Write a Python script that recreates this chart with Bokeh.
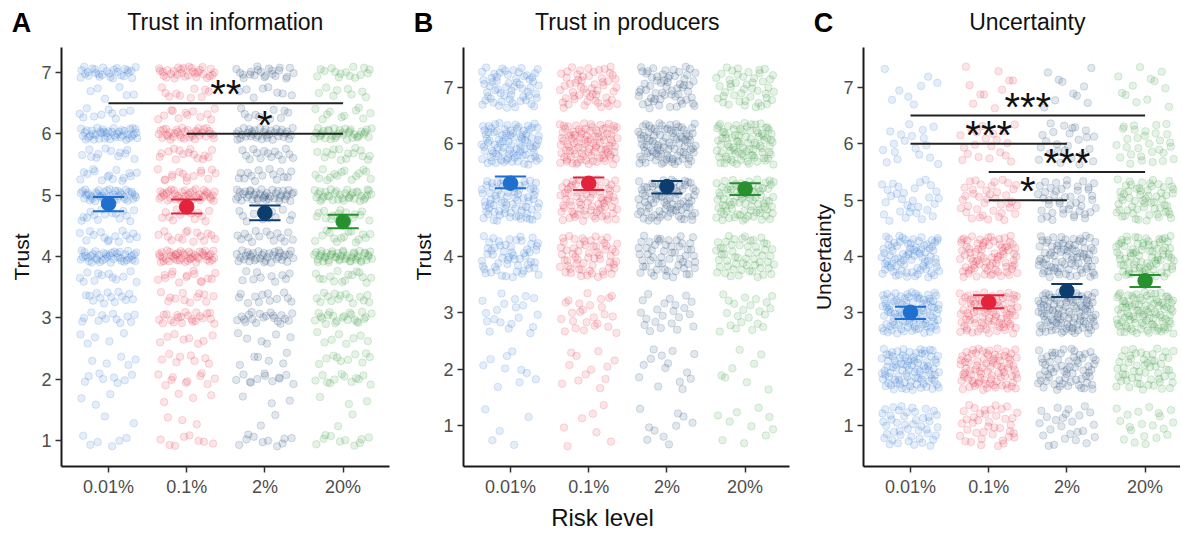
from bokeh.plotting import figure
from bokeh.layouts import row, column
from bokeh.models import FixedTicker, Range1d, ColumnDataSource
from bokeh.core.properties import value
from bokeh.embed import file_html
from bokeh.resources import INLINE

FONT = "Liberation Sans"

risk_levels = ["0.01%", "0.1%", "2%", "20%"]
group_colors = ["#1f6fce", "#e3233c", "#0d3c6e", "#26912e"]
panel_letters = ["A", "B", "C"]
panel_titles = ["Trust in information", "Trust in producers", "Uncertainty"]
panel_ylabels = ["Trust", "Trust", "Uncertainty"]
x_axis_title = "Risk level"

# ---------------- Panel A: Trust in information (mean of items, thirds) ----
a_levels = [1.0, 1.33, 1.67, 2.0, 2.33, 2.67, 3.0, 3.33, 3.67, 4.0,
            4.33, 4.67, 5.0, 5.33, 5.67, 6.0, 6.33, 6.67, 7.0]
a_counts_001 = [6, 2, 3, 8, 5, 5, 12, 14, 12, 40, 15, 15, 42, 15, 12, 42, 10, 6, 28]
a_counts_01 = [8, 3, 4, 10, 8, 8, 22, 12, 15, 45, 15, 12, 40, 15, 15, 35, 12, 10, 30]
a_counts_2 = [10, 2, 3, 12, 6, 6, 20, 12, 10, 35, 15, 12, 40, 15, 15, 35, 10, 8, 22]
a_counts_20 = [10, 2, 3, 12, 10, 8, 22, 15, 15, 45, 15, 15, 35, 15, 15, 35, 10, 8, 15]
a_mean = [4.86, 4.81, 4.71, 4.57]
a_low = [4.74, 4.70, 4.59, 4.46]
a_high = [4.97, 4.93, 4.83, 4.68]
a_sig_from = ["0.01%", "0.1%"]
a_sig_to = ["20%", "20%"]
a_sig_y = [6.5, 6.0]
a_sig_text = ["**", "*"]

# ---------------- Panel B: Trust in producers (1-7) ----
b_levels = [1, 2, 3, 4, 5, 6, 7]
b_counts_001 = [5, 10, 20, 55, 75, 90, 60]
b_counts_01 = [7, 12, 25, 60, 75, 95, 55]
b_counts_2 = [10, 14, 22, 55, 80, 90, 60]
b_counts_20 = [10, 8, 22, 55, 80, 85, 45]
b_mean = [5.30, 5.30, 5.24, 5.20]
b_low = [5.21, 5.18, 5.12, 5.09]
b_high = [5.42, 5.40, 5.34, 5.30]

# ---------------- Panel C: Uncertainty (1-7) ----
c_levels = [1, 2, 3, 4, 5, 6, 7]
c_counts_001 = [45, 90, 95, 80, 30, 18, 8]
c_counts_01 = [40, 85, 85, 80, 40, 20, 10]
c_counts_2 = [25, 65, 100, 80, 45, 25, 10]
c_counts_20 = [20, 55, 95, 80, 60, 30, 12]
c_mean = [3.01, 3.19, 3.39, 3.57]
c_low = [2.89, 3.08, 3.28, 3.46]
c_high = [3.11, 3.31, 3.51, 3.67]
c_sig_from = ["0.01%", "0.01%", "0.1%", "0.1%"]
c_sig_to = ["20%", "2%", "20%", "2%"]
c_sig_y = [6.5, 6.0, 5.5, 5.0]
c_sig_text = ["***", "***", "***", "*"]

# ---------------- layout geometry (pixels) ----
TOTAL_W = 1180
HEADER_H = 47
FRAME_H = 419
BOTTOM_B = 34
PANEL_H = FRAME_H + BOTTOM_B
FOOTER_H = 34
UNIT_PX = 78.2  # pixels per category step


def radical_inverse(i, base):
    f, r = 1.0, 0.0
    while i > 0:
        f /= base
        r += f * (i % base)
        i //= base
    return r


def jitter_points(levels, counts_by_group, jw, jh):
    xs, ys, cs = [], [], []
    k = 7
    for gi, counts in enumerate(counts_by_group):
        for lv, n in zip(levels, counts):
            for _ in range(n):
                k += 1
                xs.append(gi + 1 + (2 * radical_inverse(k, 2) - 1) * jw)
                ys.append(lv + (2 * radical_inverse(k, 3) - 1) * jh)
                cs.append(group_colors[gi])
    return ColumnDataSource(dict(x=xs, y=ys, c=cs))


def build_panel(ylabel, levels, counts_by_group, jh, means, lows, highs,
                sig_from, sig_to, sig_y, sig_text, y_rng, width, left, right):
    frame_w = width - left - right
    x0 = 1 - 47 / UNIT_PX
    p = figure(width=width, height=PANEL_H, title=None,
               x_range=Range1d(x0, x0 + frame_w / UNIT_PX), y_range=Range1d(*y_rng),
               output_backend="svg", toolbar_location=None,
               min_border_left=left, min_border_right=right,
               min_border_top=0, min_border_bottom=BOTTOM_B)
    p.background_fill_color = "white"
    p.border_fill_color = "white"
    p.outline_line_color = None
    p.grid.grid_line_color = None

    p.xaxis.ticker = FixedTicker(ticks=[1, 2, 3, 4])
    p.xaxis.major_label_overrides = {i + 1: lab for i, lab in enumerate(risk_levels)}
    p.yaxis.ticker = FixedTicker(ticks=[1, 2, 3, 4, 5, 6, 7])
    for ax in (p.xaxis, p.yaxis):
        ax.axis_line_width = 2
        ax.axis_line_color = "#1a1a1a"
        ax.major_tick_line_color = "#333333"
        ax.major_tick_line_width = 1.5
        ax.major_tick_in = 0
        ax.major_tick_out = 6
        ax.minor_tick_line_color = None
        ax.major_label_text_font = FONT
        ax.major_label_text_font_size = "18px"
        ax.major_label_text_color = "#4d4d4d"
    p.xaxis.major_label_standoff = 4
    p.yaxis.major_label_standoff = 4
    p.yaxis.axis_label = ylabel
    p.yaxis.axis_label_text_font = FONT
    p.yaxis.axis_label_text_font_size = "21px"
    p.yaxis.axis_label_text_font_style = "normal"
    p.yaxis.axis_label_text_color = "#111111"
    p.yaxis.axis_label_standoff = 5

    src = jitter_points(levels, counts_by_group, 0.37, jh)
    p.scatter("x", "y", source=src, size=7.5, fill_color="c", line_color="c",
              fill_alpha=0.12, line_alpha=0.16, line_width=1)

    if sig_from:
        fx = [risk_levels.index(s) + 1 for s in sig_from]
        tx = [risk_levels.index(s) + 1 for s in sig_to]
        p.segment(x0=fx, y0=sig_y, x1=tx, y1=sig_y, line_width=2, line_color="#222222")
        p.text(x=[(a + b) / 2 for a, b in zip(fx, tx)], y=sig_y, text=sig_text,
               text_align="center", text_baseline="alphabetic", y_offset=-9,
               text_font=value(FONT), text_font_size="40px", text_color="#111111")

    gx = [i + 1 for i in range(len(risk_levels))]
    p.segment(x0=gx, y0=lows, x1=gx, y1=highs, line_width=2, line_color=group_colors)
    p.segment(x0=[x - 0.2 for x in gx], y0=lows, x1=[x + 0.2 for x in gx], y1=lows,
              line_width=2, line_color=group_colors)
    p.segment(x0=[x - 0.2 for x in gx], y0=highs, x1=[x + 0.2 for x in gx], y1=highs,
              line_width=2, line_color=group_colors)
    p.scatter(x=gx, y=means, size=14.5, fill_color=group_colors, line_color=group_colors)
    return p


def strip(height):
    s = figure(width=TOTAL_W, height=height, x_range=Range1d(0, TOTAL_W),
               y_range=Range1d(0, height), x_axis_type=None, y_axis_type=None,
               output_backend="svg", toolbar_location=None, title=None,
               min_border_left=0, min_border_right=0, min_border_top=0, min_border_bottom=0)
    s.outline_line_color = None
    s.grid.grid_line_color = None
    s.background_fill_color = "white"
    s.border_fill_color = "white"
    return s


widths = [400, 400, 380]
lefts = [61, 63, 63]
rights = [11, 11, 0]

pa = build_panel(panel_ylabels[0], a_levels,
                 [a_counts_001, a_counts_01, a_counts_2, a_counts_20], 0.1,
                 a_mean, a_low, a_high, a_sig_from, a_sig_to, a_sig_y, a_sig_text,
                 (0.576, 7.408), widths[0], lefts[0], rights[0])
pb = build_panel(panel_ylabels[1], b_levels,
                 [b_counts_001, b_counts_01, b_counts_2, b_counts_20], 0.37,
                 b_mean, b_low, b_high, [], [], [], [],
                 (0.273, 7.709), widths[1], lefts[1], rights[1])
pc = build_panel(panel_ylabels[2], c_levels,
                 [c_counts_001, c_counts_01, c_counts_2, c_counts_20], 0.37,
                 c_mean, c_low, c_high, c_sig_from, c_sig_to, c_sig_y, c_sig_text,
                 (0.273, 7.709), widths[2], lefts[2], rights[2])

# header: panel letters and titles (titles centred over a full 4.2-step frame)
frame_starts = [sum(widths[:i]) + lefts[i] for i in range(3)]
full_frame = 4.19 * UNIT_PX
header = strip(HEADER_H)
header.text(x=[f + full_frame / 2 for f in frame_starts], y=[26] * 3, text=panel_titles,
            text_align="center", text_baseline="alphabetic",
            text_font=value(FONT), text_font_size="23px", text_color="#111111")
header.text(x=[f - 40 for f in frame_starts], y=[24.5] * 3, text=panel_letters,
            text_align="center", text_baseline="alphabetic",
            text_font=value(FONT), text_font_size="27px", text_font_style="bold",
            text_color="#000000")

footer = strip(FOOTER_H)
footer.text(x=[602], y=[17], text=[x_axis_title], text_align="center",
            text_baseline="alphabetic", text_font=value(FONT), text_font_size="24px",
            text_color="#111111")

layout = column(header, row(pa, pb, pc), footer)
open("out.html", "w").write(file_html(layout, INLINE))
